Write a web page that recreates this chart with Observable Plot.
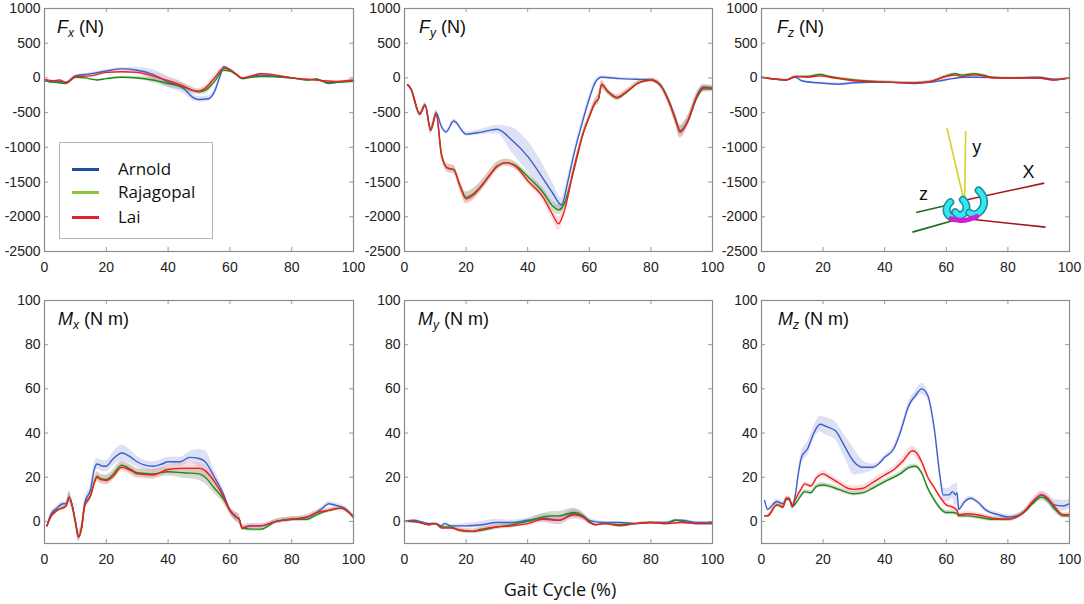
<!DOCTYPE html>
<html><head><meta charset="utf-8">
<script src="https://cdn.jsdelivr.net/npm/d3@7"></script>
<script src="https://cdn.jsdelivr.net/npm/@observablehq/plot@0.6"></script>
<style>
body{margin:0;background:#fff;}
#wrap{position:relative;width:1084px;height:604px;overflow:hidden;font-family:"Liberation Sans",Arial,sans-serif;background:#fff;}
.panel{position:absolute;}
.lbl{position:absolute;font-size:18px;line-height:18px;color:#111;white-space:nowrap;}
.lbl sub{font-size:12px;font-style:italic;vertical-align:-4px;line-height:0;}
.legend{position:absolute;left:59px;top:142px;width:152px;height:95px;border:1px solid #b5b5b5;background:#fff;}
.lrow{position:absolute;left:0;height:0;}
.lrow .sw{position:absolute;left:12px;width:27px;height:3px;top:-1.5px;}
.lrow .tx{position:absolute;left:58px;top:-12px;font-family:"Open Sans",sans-serif;font-size:17px;line-height:24px;color:#111;white-space:nowrap;}
.xlabel{position:absolute;left:460px;width:200px;text-align:center;top:577px;font-family:"Open Sans",sans-serif;font-size:18px;line-height:24px;color:#111;}
</style>
</head><body>
<div id="wrap"></div>
<script>
// ---------- data: [gait cycle %, mean, half-band] ----------
const xTicks = [0, 20, 40, 60, 80, 100];
const forceTicks = [-2500, -2000, -1500, -1000, -500, 0, 500, 1000];
const momentTicks = [0, 20, 40, 60, 80, 100];
const models = ["Arnold", "Rajagopal", "Lai"];

const arnoldFx = [[0,-30,0],[2,-60,10],[5,-55,10],[7,-60,10],[10,30,15],[13,50,15],[15,60,15],[20,100,20],[25,130,20],[30,110,40],[35,50,70],[40,-60,80],[45,-150,70],[48,-280,50],[50,-310,40],[53,-300,40],[55,-200,40],[57,50,30],[58,160,20],[60,120,15],[62,50,10],[64,-10,10],[67,20,10],[70,40,10],[75,20,10],[80,0,10],[85,-30,15],[88,-20,10],[90,-50,10],[92,-80,10],[95,-60,10],[100,-40,20]];
const rajaFx = [[0,-40,0],[3,-60,10],[7,-80,10],[10,10,10],[13,0,10],[17,-30,10],[20,-10,10],[25,10,15],[30,0,20],[35,-30,40],[40,-80,50],[45,-130,50],[50,-200,40],[52,-180,50],[55,-50,50],[58,110,20],[60,100,15],[62,50,10],[64,-10,10],[67,10,10],[70,20,10],[80,0,10],[85,-30,10],[88,-20,10],[92,-70,10],[96,-60,10],[100,-50,10]];
const laiFx = [[0,-20,0],[3,-40,10],[5,-30,10],[7,-70,10],[10,20,10],[15,30,15],[20,80,15],[25,90,20],[30,80,30],[35,30,50],[40,-40,50],[45,-120,50],[48,-180,40],[50,-190,30],[52,-150,40],[55,0,40],[58,140,20],[60,120,15],[62,60,10],[64,0,10],[67,30,10],[70,60,10],[75,40,10],[80,0,10],[85,-20,10],[90,-40,10],[95,-50,10],[100,-30,15]];

const arnoldFy = [[1,-100,0],[2,-150,20],[5,-520,30],[6.7,-390,30],[8.5,-750,40],[10.3,-500,40],[12,-700,30],[13.5,-780,30],[16,-620,30],[20,-810,30],[25,-780,40],[30,-740,60],[35,-900,180],[40,-1130,220],[45,-1450,200],[48,-1650,150],[51,-1830,100],[53,-1500,80],[55,-1100,60],[58,-600,60],[60,-300,50],[62,-60,40],[64,10,20],[70,-10,15],[75,-20,15],[80,-30,20],[83,-100,30],[86,-350,40],[88,-600,50],[89.5,-760,60],[92,-620,60],[95,-250,50],[97,-130,30],[100,-140,30]];
const rajaFy = [[1,-100,0],[2,-150,20],[5,-520,30],[6.7,-390,30],[8.5,-750,60],[10.3,-520,40],[12,-1100,60],[14,-1300,60],[16,-1320,60],[18,-1550,70],[20,-1720,80],[22,-1680,80],[25,-1550,70],[28,-1380,70],[30,-1270,60],[33,-1220,50],[36,-1260,50],[40,-1420,50],[45,-1650,60],[48,-1840,70],[50,-1900,70],[52,-1800,70],[54,-1500,60],[56,-1150,60],[58,-800,50],[60,-560,50],[62,-350,60],[63,-300,80],[64,-100,60],[66,-200,40],[69,-290,40],[72,-210,40],[76,-70,30],[80,-30,30],[83,-100,40],[86,-350,60],[88,-590,80],[89.5,-770,90],[92,-620,80],[95,-280,60],[97,-160,50],[100,-160,40]];
const laiFy = [[1,-100,0],[2,-150,20],[5,-520,30],[6.7,-390,30],[8.5,-750,60],[10.3,-520,40],[12,-1100,60],[14,-1300,60],[16,-1320,60],[18,-1550,70],[20,-1740,80],[22,-1700,80],[25,-1560,70],[28,-1380,70],[30,-1280,60],[33,-1220,50],[36,-1270,50],[40,-1480,50],[45,-1720,60],[48,-1960,80],[50,-2100,100],[52,-1900,80],[55,-1300,60],[58,-800,50],[60,-560,50],[62,-350,60],[63,-300,80],[64,-90,60],[66,-190,40],[69,-280,40],[72,-200,40],[76,-70,30],[80,-30,30],[83,-100,40],[86,-360,60],[88,-600,80],[89.5,-780,90],[92,-620,80],[95,-260,60],[97,-140,50],[100,-150,40]];

const arnoldFz = [[0,10,0],[8,-30,10],[11,10,10],[13,-40,15],[18,-70,15],[25,-90,20],[30,-70,20],[40,-60,15],[50,-80,15],[57,-50,15],[62,-10,15],[66,10,15],[70,10,10],[80,0,10],[90,10,10],[95,-20,10],[100,0,10]];
const rajaFz = [[0,10,0],[8,-30,10],[11,20,10],[15,20,15],[19,50,15],[22,20,15],[30,-30,15],[40,-60,15],[50,-70,15],[55,-50,15],[60,30,15],[63,60,15],[65,40,15],[69,60,15],[72,40,15],[75,10,10],[80,0,10],[90,0,10],[95,-30,10],[100,0,10]];
const laiFz = [[0,10,0],[8,-30,10],[11,20,10],[15,10,15],[19,30,15],[22,10,15],[30,-40,15],[40,-60,15],[50,-70,15],[55,-50,15],[60,20,15],[63,40,15],[65,20,15],[68,40,15],[70,40,15],[75,0,10],[80,0,10],[90,0,10],[95,-30,10],[100,0,10]];

const arnoldMx = [[0.8,-2,0],[2,3,1],[4,6,1],[6,8,1],[7,8,1],[8,11,2.5],[9,7,2],[10,0,2],[11,-7,2],[12,-3,2],[13,8,2],[15,15,2],[16,23,2.5],[17,26,2.5],[19,25,2.5],[20,25,2.5],[22,28,3],[25,31,3.5],[28,29,3],[30,27,2.5],[35,25,2],[38,26,2],[40,27,2],[44,27,2],[47,29,2.5],[50,28.5,4],[52,27,5],[55,20,3],[58,12,2],[60,5,1.5],[62,2,2],[63,1,2],[64,-3,1],[66,-2,1],[70,-2,1],[75,0,1],[80,1,1],[85,2,1],[88,4,1],[90,6,1],[92,8,1],[95,7,1],[97,6,1],[100,2,1]];
const rajaMx = [[0.8,-2,0],[2,2,1],[4,5,1],[7,7,1],[8,11,2.5],[9,7,2],[10,0,2],[11,-7,2],[12,-3,2],[13,7,2],[15,12,2],[16,17,2],[17,20.5,2],[18,19.5,2],[20,19,2],[22,21,2],[25,25.5,2],[28,23.5,2],[30,22,2],[35,21.5,2],[40,22.5,2],[45,22,2.5],[50,21.5,3],[52,20,3],[55,15,2.5],[58,10,2],[60,5,1.5],[62,2,2],[63,1,2],[64,-3,1],[67,-3.5,1],[70,-3.5,1],[75,0,1],[80,1,1],[85,1,1],[88,3,1],[92,5,1],[96,6,1],[100,2,1]];
const laiMx = [[0.8,-2,0],[2,2,1],[4,5,1],[7,7,1],[8,11,2.5],[9,7,2],[10,0,2],[11,-7,2],[12,-3,2],[13,7,2],[15,12,2],[16,17,2],[17,20,2],[18,19,2],[20,18.5,2],[22,20,2],[25,24.5,2],[28,23,2],[30,21.5,2],[35,21,2],[40,23.5,2],[45,24,2.5],[50,24,2.5],[52,23,2.5],[55,18,2],[58,11,2],[60,5,1.5],[62,2,2],[63,1,2],[64,-3,1],[67,-2,1],[70,-2,1],[75,0,1],[80,1,1],[85,2,1],[88,4,1],[92,5,1],[96,6,1],[100,2,1]];

const arnoldMy = [[0,0,0],[3,0.5,0.5],[6,-0.5,0.5],[8,-1,0.5],[10,-1,0.5],[12,-2,0.5],[13,-1,0.5],[15,-2,0.5],[20,-2,1],[25,-1.5,1.5],[30,-0.5,1.5],[35,-0.5,1],[40,0.5,1],[45,1.5,2],[50,0.5,2],[55,3.5,2],[58,2,1.5],[60,0.5,1],[65,-0.5,0.5],[70,-0.5,0.5],[75,-1,0.5],[80,-0.5,0.5],[85,-0.5,0.5],[88,0.5,0.5],[90,0.5,0.5],[95,-0.5,0.5],[100,-0.5,0.5]];
const rajaMy = [[0,0,0],[5,-0.5,0.5],[8,-1.5,0.5],[10,-1,0.5],[12,-2.5,0.5],[15,-2.5,0.5],[18,-4,1],[22,-4.5,1],[25,-4,1],[30,-2.5,1],[35,-1.5,1],[40,0,1],[45,2,1.5],[48,2.5,2],[50,2.5,2],[55,4,2],[58,2.5,1.5],[60,0,1],[62,-1.5,0.5],[65,-1,0.5],[70,-1.5,0.5],[75,-1,0.5],[80,-0.5,0.5],[85,-1,0.5],[88,0.5,0.5],[90,0,0.5],[95,-1,0.5],[100,-1,0.5]];
const laiMy = [[0,0,0],[3,0,0.5],[8,-1.5,0.5],[10,-1,0.5],[12,-3,0.5],[15,-3,0.5],[18,-4,1],[22,-4.5,1],[25,-3.5,1],[30,-2.5,1],[35,-2,1],[40,-1,1],[45,1,1.5],[50,0.5,2],[55,3,2],[58,2,1.5],[60,-0.5,1],[62,-1.5,0.5],[65,-1,0.5],[70,-2,0.5],[75,-1,0.5],[80,-0.5,0.5],[85,-1,0.5],[90,-0.5,0.5],[95,-1,0.5],[100,-1,0.5]];

const arnoldMz = [[1,9.5,0],[2,5.5,1],[5,9,1],[7,8,1],[8,10,1],[9,10,1],[10,7.5,1],[11,12,1],[12,22,2],[13,29,3],[15,33,3],[17,40,3],[19,44,3.5],[21,43,4],[24,41,4],[27,34,5],[30,27,6],[33,24.5,3],[36,24.5,1.5],[38,26,1],[40,29,1],[43,33,1.5],[45,40,1.5],[48,53,2],[50,57,2],[52,60,2.5],[54,57,2],[56,43,1.5],[58,20,2],[59,12,3],[61,12,3],[62,13.5,3],[63,12,5],[63.5,13,5],[64,5.5,1],[66,9,1],[68,10.5,1],[70,9,1],[73,5,1],[77,3,1],[80,2,1],[83,2.5,1],[86,5,1],[89,10,1.5],[91,12,1.5],[93,10,2],[95,7.5,2.5],[98,7,2.5],[100,8,2]];
const rajaMz = [[1,2.5,0],[2,2.5,0.5],[5,7.5,1],[7,6.5,1],[8,10,1],[9,10,1],[10,6.5,1],[11,8,1],[13,12,1],[14,13.5,1],[16,13,1],[18,16,1],[20,16.5,1],[22,16,1],[25,14.5,1],[30,12.5,1],[33,13,1],[36,15,1],[40,18,1],[45,21.5,1],[48,24.5,1],[50,25,1],[52,22,1],[54,15,1],[56,10,1],[58,6,1],[60,4,1],[62,4,1],[63.5,3.5,1],[64,2.5,1],[67,2.5,1],[70,2,1],[75,1,1],[80,1,1],[85,4,1],[88,8,1],[91,11,1.5],[93,9.5,1.5],[95,6,1.5],[98,2.5,1],[100,2.5,1]];
const laiMz = [[1,2.5,0],[2,2.5,0.5],[5,7.5,1],[7,6.5,1],[8,10.5,1],[9,10.5,1],[10,7,1],[11,10,1],[13,15,1],[14,17,1],[16,16,1],[18,20,1],[20,21.5,1.5],[22,20,1.5],[25,17.5,1.5],[28,15,1.5],[30,14.5,1.5],[33,15,1.5],[36,17.5,1.5],[40,21,1.5],[43,23.5,1.5],[46,27.5,2],[49,32,2],[50,31.5,2],[52,27,2],[54,20,1.5],[56,15.5,1],[58,11,1],[60,7.5,1],[62,6.5,1],[63.5,5,1],[64,3,1],[67,3.5,1],[70,3,1],[75,1.5,1],[80,1,1],[85,4,1],[88,9,1.5],[91,12,1.5],[93,10.5,2],[95,7,2],[98,3,1],[100,3,1]];

// coordinate-frame icon in the Fz panel (data units of that panel)
const iconAxes = [
  {x1:60.2,y1:-721,x2:66.5,y2:-1909,c:"#d6d22a"},
  {x1:66.3,y1:-769,x2:65.9,y2:-1909,c:"#d6d22a"},
  {x1:66.7,y1:-1755,x2:91.8,y2:-1515,c:"#a4161a"},
  {x1:66.7,y1:-2029,x2:92.2,y2:-2149,c:"#a4161a"},
  {x1:50.2,y1:-1938,x2:62.3,y2:-1813,c:"#1c6b1c"},
  {x1:49.0,y1:-2221,x2:62.3,y2:-2053,c:"#1c6b1c"}
];
const iconRings = [
  [[61.3,-1789],[60.2,-1861],[60.4,-1957],[62.3,-2015],[64.0,-1995]],
  [[65.4,-1755],[66.5,-1837],[66.1,-1933],[64.3,-1981],[62.9,-1933]],
  [[70.5,-1620],[71.9,-1702],[72.2,-1822],[71.1,-1918],[69.2,-1966],[67.5,-1942]]
];
const iconPad = [[61.5,-2029],[65.6,-2053],[69.9,-1995]];
const iconLabels = [{x:69.9,y:-995,t:"y"},{x:86.7,y:-1356,t:"X"},{x:52.6,y:-1668,t:"z"}];

const lineColors = {Arnold:"#3b5fcf", Rajagopal:"#1b8a1b", Lai:"#f51c1c"};
const bandColors = {Arnold:"rgba(160,168,222,0.35)", Rajagopal:"rgba(120,135,100,0.30)", Lai:"rgba(235,150,150,0.30)"};
const legendColors = {Arnold:"#1f4e9a", Rajagopal:"#8cc63e", Lai:"#e21f26"};

const panels = [
  {left:0,   top:0,   width:360, height:280, ml:44, mr:7,  mt:8,  mb:29, yd:[-2500,1000], yt:forceTicks, sym:"F", sub:"x", unit:"(N)",   lx:57,  by:33,  data:[arnoldFx,rajaFx,laiFx]},
  {left:360, top:0,   width:360, height:280, ml:44, mr:8,  mt:8,  mb:29, yd:[-2500,1000], yt:forceTicks, sym:"F", sub:"y", unit:"(N)",   lx:419, by:33,  data:[arnoldFy,rajaFy,laiFy]},
  {left:720, top:0,   width:364, height:280, ml:41, mr:15, mt:8,  mb:29, yd:[-2500,1000], yt:forceTicks, sym:"F", sub:"z", unit:"(N)",   lx:777, by:33,  data:[arnoldFz,rajaFz,laiFz], icon:true},
  {left:0,   top:280, width:360, height:290, ml:44, mr:7,  mt:20, mb:27, yd:[-10,100],    yt:momentTicks, sym:"M", sub:"x", unit:"(N m)", lx:58,  by:325, data:[arnoldMx,rajaMx,laiMx]},
  {left:360, top:280, width:360, height:290, ml:44, mr:8,  mt:20, mb:27, yd:[-10,100],    yt:momentTicks, sym:"M", sub:"y", unit:"(N m)", lx:418, by:325, data:[arnoldMy,rajaMy,laiMy]},
  {left:720, top:280, width:364, height:290, ml:41, mr:15, mt:20, mb:27, yd:[-10,100],    yt:momentTicks, sym:"M", sub:"z", unit:"(N m)", lx:778, by:325, data:[arnoldMz,rajaMz,laiMz]}
];

const wrap = document.getElementById("wrap");
const acc = (i) => d => d[i];

for (const p of panels) {
  const innerW = p.width - p.ml - p.mr, innerH = p.height - p.mt - p.mb;
  const marks = [];
  p.data.forEach((s, i) => marks.push(Plot.areaY(s, {x: acc(0), y1: d => d[1]-d[2], y2: d => d[1]+d[2], fill: bandColors[models[i]], curve: "monotone-x"})));
  p.data.forEach((s, i) => marks.push(Plot.line(s, {x: acc(0), y: acc(1), stroke: lineColors[models[i]], strokeWidth: 1.4, curve: "monotone-x"})));
  if (p.icon) {
    marks.push(Plot.link(iconAxes, {x1:"x1", y1:"y1", x2:"x2", y2:"y2", stroke: d => d.c, strokeWidth: 1.6}));
    iconRings.forEach(r => {
      marks.push(Plot.line(r, {x: acc(0), y: acc(1), stroke: "#1a8d97", strokeWidth: 8, curve: "catmull-rom", strokeLinecap: "round"}));
      marks.push(Plot.line(r, {x: acc(0), y: acc(1), stroke: "#33e8f2", strokeWidth: 5, curve: "catmull-rom", strokeLinecap: "round"}));
    });
    marks.push(Plot.line(iconPad, {x: acc(0), y: acc(1), stroke: "#d21ed6", strokeWidth: 5, curve: "catmull-rom", strokeLinecap: "round"}));
    marks.push(Plot.text(iconLabels, {x: "x", y: "y", text: "t", fontSize: 18, fill: "#111"}));
  }
  marks.push(Plot.tickX(xTicks, {x: d => d, stroke: "#9a9a9a", insetTop: innerH - 4}));
  marks.push(Plot.tickX(xTicks, {x: d => d, stroke: "#9a9a9a", insetBottom: innerH - 4}));
  marks.push(Plot.tickY(p.yt, {y: d => d, stroke: "#9a9a9a", insetRight: innerW - 4}));
  marks.push(Plot.tickY(p.yt, {y: d => d, stroke: "#9a9a9a", insetLeft: innerW - 4}));
  marks.push(Plot.frame({stroke: "#8c8c8c", strokeWidth: 1.2}));

  const chart = Plot.plot({
    width: p.width, height: p.height,
    marginLeft: p.ml, marginRight: p.mr, marginTop: p.mt, marginBottom: p.mb,
    x: {domain: [0, 100], ticks: xTicks, tickSize: 0, tickPadding: 11, tickFormat: d => String(d), label: null},
    y: {domain: p.yd, ticks: p.yt, tickSize: 0, tickPadding: 4, tickFormat: d => String(d), label: null},
    style: {fontSize: "14px", fontFamily: "'Liberation Sans', Arial, sans-serif", color: "#222", overflow: "visible", background: "transparent"},
    marks
  });
  chart.classList.add("panel");
  chart.style.position = "absolute";
  chart.style.left = p.left + "px";
  chart.style.top = p.top + "px";
  wrap.appendChild(chart);

  const lbl = document.createElement("div");
  lbl.className = "lbl";
  lbl.style.left = p.lx + "px";
  lbl.style.top = (p.by - 15) + "px";
  lbl.innerHTML = `<i>${p.sym}</i><sub>${p.sub}</sub> ${p.unit}`;
  wrap.appendChild(lbl);
}

// legend
const lg = document.createElement("div");
lg.className = "legend";
const rowY = [26, 49, 74];
models.forEach((m, i) => {
  const r = document.createElement("div");
  r.className = "lrow";
  r.style.top = rowY[i] + "px";
  r.innerHTML = `<div class="sw" style="background:${legendColors[m]}"></div><div class="tx">${m}</div>`;
  lg.appendChild(r);
});
wrap.appendChild(lg);

const xl = document.createElement("div");
xl.className = "xlabel";
xl.textContent = "Gait Cycle (%)";
wrap.appendChild(xl);
</script>
</body></html>
